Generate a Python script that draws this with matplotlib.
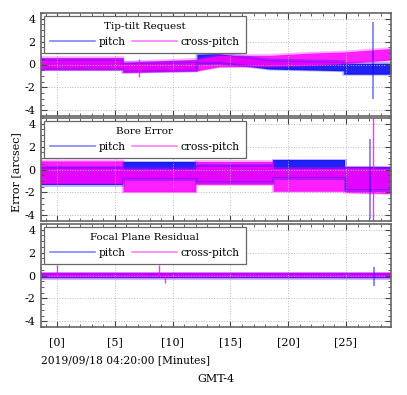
import matplotlib
matplotlib.use("Agg")
import matplotlib.pyplot as plt
from matplotlib.lines import Line2D
from matplotlib.ticker import MultipleLocator, FixedLocator

plt.rcParams['font.family'] = ['DejaVu Serif']
plt.rcParams['axes.unicode_minus'] = False

# ---------------- data (envelopes) ----------------
panel_titles = ["Tip-tilt Request", "Bore Error", "Focal Plane Residual"]
series_names = ["pitch", "cross-pitch"]
x_ticks = [0, 5, 10, 15, 20, 25]
x_tick_labels = ["[0]", "[5]", "[10]", "[15]", "[20]", "[25]"]
y_ticks = [-4, -2, 0, 2, 4]

# Tip-tilt Request
tt_pitch_t = [-1.4, 5.7, 5.7, 12.1, 12.1, 14.0, 16.0, 18.4, 24.8, 24.8, 28.9]
tt_pitch_lo = [-0.45, -0.45, -0.65, -0.55, 0.05, 0.1, -0.1, -0.4, -0.55, -0.85, -0.85]
tt_pitch_hi = [0.45, 0.45, 0.15, 0.25, 0.9, 0.95, 0.7, 0.4, 0.25, 0.1, 0.1]
tt_cross_t = [-1.4, 5.7, 5.7, 12.1, 14.0, 18.4, 22.0, 25.0, 28.9]
tt_cross_lo = [-0.45, -0.45, -0.7, -0.55, -0.2, -0.15, -0.05, 0.1, 0.4]
tt_cross_hi = [0.6, 0.6, 0.2, 0.45, 0.8, 0.8, 1.0, 1.1, 1.4]
tt_pitch_spk_t = [27.3]
tt_pitch_spk_lo = [-3.0]
tt_pitch_spk_hi = [3.7]
tt_cross_spk_t = [7.1]
tt_cross_spk_lo = [-1.1]
tt_cross_spk_hi = [0.5]

# Bore Error
be_t = [-1.4, 5.7, 5.7, 12.0, 12.0, 18.7, 18.7, 24.9, 24.9, 28.9]
be_pitch_lo = [-1.35, -1.35, -0.85, -0.85, -1.1, -1.1, -0.7, -0.7, -1.8, -1.8]
be_pitch_hi = [0.25, 0.25, 0.65, 0.65, 0.4, 0.4, 0.8, 0.8, 0.2, 0.2]
be_cross_lo = [-1.2, -1.2, -1.95, -1.95, -1.3, -1.3, -1.9, -1.9, -2.0, -2.1]
be_cross_hi = [0.75, 0.75, 0.05, 0.05, 0.7, 0.7, 0.1, 0.1, 0.2, 0.1]
be_pitch_spk_t = [27.1]
be_pitch_spk_lo = [-4.3]
be_pitch_spk_hi = [2.7]
be_cross_spk_t = [27.35]
be_cross_spk_lo = [-4.6]
be_cross_spk_hi = [4.6]

# Focal Plane Residual
fp_t = [-1.4, 28.9]
fp_pitch_lo = [-0.25, -0.25]
fp_pitch_hi = [0.2, 0.2]
fp_cross_lo = [-0.1, -0.1]
fp_cross_hi = [0.2, 0.2]
fp_pitch_spk_t = [27.4]
fp_pitch_spk_lo = [-0.9]
fp_pitch_spk_hi = [0.7]
fp_cross_spk_t = [0.0, 8.8, 9.3]
fp_cross_spk_lo = [0.0, 0.0, -0.65]
fp_cross_spk_hi = [0.9, 0.9, 0.0]

panels = [
    dict(pt=tt_pitch_t, plo=tt_pitch_lo, phi=tt_pitch_hi,
         ct=tt_cross_t, clo=tt_cross_lo, chi=tt_cross_hi,
         pst=tt_pitch_spk_t, pslo=tt_pitch_spk_lo, pshi=tt_pitch_spk_hi,
         cst=tt_cross_spk_t, cslo=tt_cross_spk_lo, cshi=tt_cross_spk_hi),
    dict(pt=be_t, plo=be_pitch_lo, phi=be_pitch_hi,
         ct=be_t, clo=be_cross_lo, chi=be_cross_hi,
         pst=be_pitch_spk_t, pslo=be_pitch_spk_lo, pshi=be_pitch_spk_hi,
         cst=be_cross_spk_t, cslo=be_cross_spk_lo, cshi=be_cross_spk_hi),
    dict(pt=fp_t, plo=fp_pitch_lo, phi=fp_pitch_hi,
         ct=fp_t, clo=fp_cross_lo, chi=fp_cross_hi,
         pst=fp_pitch_spk_t, pslo=fp_pitch_spk_lo, pshi=fp_pitch_spk_hi,
         cst=fp_cross_spk_t, cslo=fp_cross_spk_lo, cshi=fp_cross_spk_hi),
]

BLUE = '#0a0af5'
MAG = '#ff00ff'
FS = 7.7


def band(ax, t, lo, hi, color, alpha):
    ax.fill_between(t, lo, hi, color=color, alpha=alpha, lw=0)
    ax.plot(t, lo, color=color, alpha=0.3, lw=2.0, solid_joinstyle='miter')
    ax.plot(t, hi, color=color, alpha=0.3, lw=2.0, solid_joinstyle='miter')


fig = plt.figure(figsize=(4.07, 3.95), dpi=100)
left, width = 41 / 407, 350 / 407
tops = [13, 118, 224]
heights = [103, 103, 103]

for i, (p, title) in enumerate(zip(panels, panel_titles)):
    top = tops[i]
    h = heights[i]
    ax = fig.add_axes([left, 1 - (top + h) / 395, width, h / 395])
    band(ax, p['pt'], p['plo'], p['phi'], BLUE, 0.9)
    ax.vlines(p['pst'], p['pslo'], p['pshi'], color=BLUE, alpha=0.55, lw=1.2)
    band(ax, p['ct'], p['clo'], p['chi'], MAG, 0.88)
    ax.vlines(p['cst'], p['cslo'], p['cshi'], color=MAG, alpha=0.8, lw=1.0)

    ax.set_xlim(-1.4, 28.9)
    ax.set_ylim(-4.5, 4.5)
    ax.xaxis.set_major_locator(FixedLocator(x_ticks))
    ax.xaxis.set_minor_locator(MultipleLocator(1))
    ax.yaxis.set_major_locator(FixedLocator(y_ticks))
    ax.yaxis.set_minor_locator(MultipleLocator(0.5))
    ax.set_yticklabels([str(v) for v in y_ticks], fontsize=FS + 0.3)
    if i == 2:
        ax.set_xticklabels(x_tick_labels, fontsize=FS + 0.3)
    else:
        ax.set_xticklabels([])
    ax.tick_params(which='both', direction='in', top=True, right=True,
                   color='#444444')
    ax.tick_params(axis='x', pad=7)
    ax.tick_params(axis='y', pad=4)
    ax.tick_params(which='major', length=4, width=0.8)
    ax.tick_params(which='minor', length=2, width=0.6)
    ax.grid(True, which='major', color='#bbbbbb', ls=':', lw=0.7)
    for s in ax.spines.values():
        s.set_color('#666666')
        s.set_linewidth(1.2)

    handles = [Line2D([], [], color=BLUE, alpha=0.5, lw=1.2),
               Line2D([], [], color=MAG, alpha=0.5, lw=1.2)]
    leg = ax.legend(handles, series_names, title=title, ncol=2, loc='upper left',
                    fontsize=FS, title_fontsize=FS - 0.2, handlelength=4.2,
                    handletextpad=0.35, columnspacing=0.6, borderaxespad=0.25,
                    fancybox=False, framealpha=1, edgecolor='#666666',
                    borderpad=0.6, labelspacing=0.3)
    leg.get_frame().set_linewidth(0.9)
    leg._legend_box.sep = 4

fig.text(16 / 407, 1 - 172 / 395, "Error [arcsec]", rotation=90,
         ha='center', va='center', fontsize=8)
fig.text(41 / 407, 1 - 360 / 395, "2019/09/18 04:20:00 [Minutes]",
         ha='left', va='center', fontsize=FS)
fig.text(216 / 407, 1 - 379 / 395, "GMT-4", ha='center', va='center',
         fontsize=8)

fig.savefig("out.png", dpi=100)
